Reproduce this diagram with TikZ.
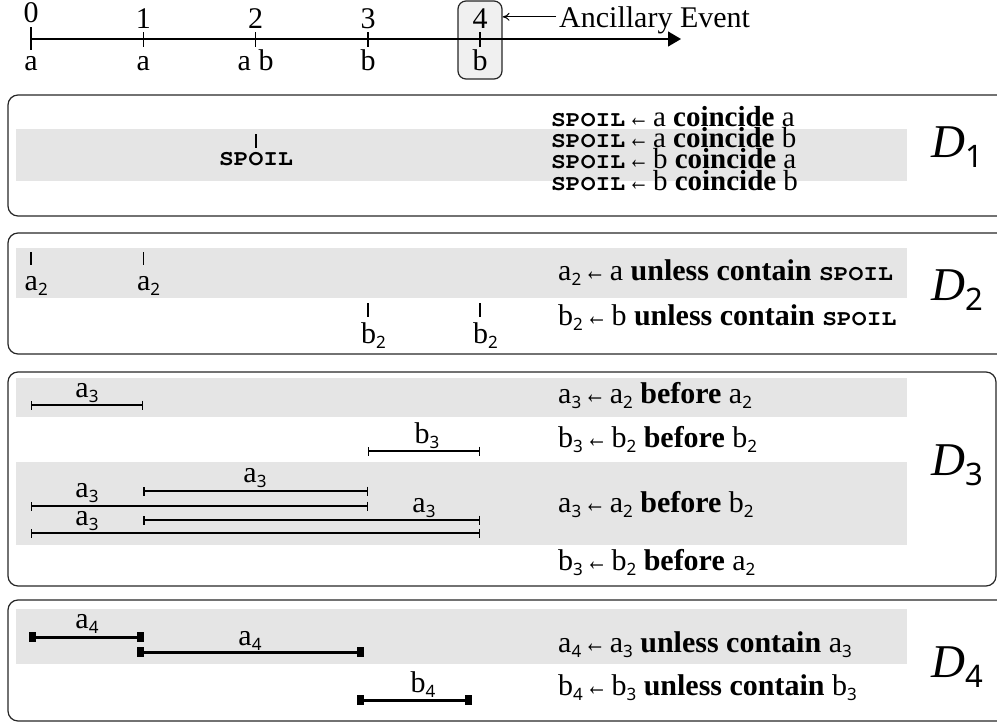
\documentclass[tikz,border=0pt]{standalone}
\usepackage{fontspec}
\setmainfont{Liberation Serif}
\newfontfamily\subf{Noto Sans}
\usetikzlibrary{arrows.meta}
\newcommand\sbs[1]{\raisebox{-5pt}{\subf\fontsize{17}{17}\selectfont #1}}
\newcommand\spoil{{\fontencoding{T1}\fontfamily{pcr}\fontseries{b}\fontshape{n}\fontsize{22}{22}\selectfont\scalebox{1.12}[1]{SPOIL}}}
\newcommand\Dlab[1]{{\fontsize{47}{47}\selectfont\itshape D}\raisebox{-10pt}{\subf\fontsize{31}{31}\selectfont #1}}
\newcommand\la{\hspace{3pt}\scalebox{0.72}[1]{←}\hspace{4pt}}
\begin{document}
\begin{tikzpicture}[x=1pt,y=-1pt,
  txt/.style={inner sep=0pt, font=\fontsize{30}{30}\selectfont},
  lab/.style={txt, anchor=base},
  rulet/.style={txt, anchor=base west},
  rulec/.style={inner sep=0pt, anchor=base west, font=\fontsize{29}{29}\selectfont},
  dlab/.style={inner sep=0pt, anchor=base west},
  dbox/.style={draw=black!85, line width=1.2pt, rounded corners=10pt},
  band/.style={fill=black!10},
  tickl/.style={line width=1.2pt},
  ival/.style={line width=1.3pt, {Bar[width=9pt,line width=1.3pt]}-{Bar[width=9pt,line width=1.3pt]}},
  ivalb/.style={line width=3pt},
  endsq/.style={fill=black, minimum width=7pt, minimum height=10pt, inner sep=0pt}
]
\useasboundingbox (0,0) rectangle (997,723);

% ---------- timeline ----------
\node[draw=black!85, fill=black!6, line width=1.2pt, rounded corners=8pt,
      minimum width=44pt, minimum height=78pt, inner sep=0pt] (box4) at (480,40) {};
\coordinate (t0) at (31,39);
\coordinate (tend) at (681,39);
\draw[line width=1.3pt, -{Triangle[length=13pt,width=15pt]}] (t0) -- (tend);
\draw[tickl] (31,27) -- (31,50);
\foreach \x in {143.3,255.6,368,480} \draw[tickl] (\x,32) -- (\x,47);
\node[lab] (n0) at (31,22) {0};
\node[lab] (n1) at (143.3,28) {1};
\node[lab] (n2) at (255.6,28) {2};
\node[lab] (n3) at (368,28) {3};
\node[lab] (n4) at (480,28) {4};
\node[lab] (l0) at (31,70) {a};
\node[lab] (l1) at (143.3,70) {a};
\node[lab] (l2) at (255.6,70) {a b};
\node[lab] (l3) at (368,70) {b};
\node[lab] (l4) at (480,70) {b};
\node[rulet] (anc) at (559,27) {Ancillary Event};
\draw[line width=1pt, -{To[length=7pt,width=8pt]}] ([xshift=-3pt,yshift=3pt]anc.west) -- ([yshift=3pt]anc.west -| box4.east);

% ---------- D1 ----------
\draw[dbox] (8,95) rectangle (1010,216);
\fill[band] (16,129) rectangle (907,181);
\draw[tickl] (256,134) -- (256,148);
\node[lab] (sp) at (256,165) {\spoil};
\node[rulec] (r11) at (551,126) {\spoil\la a \textbf{coincide} a};
\node[rulec] (r12) at (551,147) {\spoil\la a \textbf{coincide} b};
\node[rulec] (r13) at (551,168) {\spoil\la b \textbf{coincide} a};
\node[rulec] (r14) at (551,190) {\spoil\la b \textbf{coincide} b};
\node[dlab] (d1) at (931,157) {\Dlab{1}};

% ---------- D2 ----------
\draw[dbox] (8,233) rectangle (1010,354);
\fill[band] (16,248) rectangle (907,298);
\draw[tickl] (31,252) -- (31,265);
\draw[tickl] (143.3,252) -- (143.3,265);
\draw[tickl] (368,303) -- (368,317);
\draw[tickl] (480,303) -- (480,317);
\node[rulet] (a2a) at (24.5,290) {a\sbs{2}};
\node[rulet] (a2b) at (136.8,290) {a\sbs{2}};
\node[rulet] (b2a) at (360.8,343) {b\sbs{2}};
\node[rulet] (b2b) at (472.8,343) {b\sbs{2}};
\node[rulet] (r21) at (558,280) {a\sbs{2}\la a \textbf{unless contain} \spoil};
\node[rulet] (r22) at (558,325) {b\sbs{2}\la b \textbf{unless contain} \spoil};
\node[dlab] (d2) at (931,300) {\Dlab{2}};

% ---------- D3 ----------
\draw[dbox] (8,372) rectangle (996,586);
\fill[band] (16,378) rectangle (907,417);
\fill[band] (16,462) rectangle (907,545);
\draw[ival] (31,405) -- (143.3,405);
\draw[ival] (368,451) -- (480,451);
\draw[ival] (143.3,491) -- (368,491);
\draw[ival] (31,506) -- (368,506);
\draw[ival] (143.3,520) -- (480,520);
\draw[ival] (31,533) -- (480,533);
\node[lab] (i31) at (87,397) {a\sbs{3}};
\node[lab] (i32) at (427,443) {b\sbs{3}};
\node[lab] (i33) at (255,482) {a\sbs{3}};
\node[lab] (i34) at (87,497) {a\sbs{3}};
\node[lab] (i35) at (424,512) {a\sbs{3}};
\node[lab] (i36) at (87,525) {a\sbs{3}};
\node[rulet] (r31) at (558,403) {a\sbs{3}\la a\sbs{2} \textbf{before} a\sbs{2}};
\node[rulet] (r32) at (558,447) {b\sbs{3}\la b\sbs{2} \textbf{before} b\sbs{2}};
\node[rulet] (r33) at (558,512) {a\sbs{3}\la a\sbs{2} \textbf{before} b\sbs{2}};
\node[rulet] (r34) at (558,570) {b\sbs{3}\la b\sbs{2} \textbf{before} a\sbs{2}};
\node[dlab] (d3) at (931,475) {\Dlab{3}};

% ---------- D4 ----------
\draw[dbox] (8,600) rectangle (1010,721);
\fill[band] (16,609) rectangle (907,664);
\coordinate (p0) at (32.5,637);
\coordinate (p1) at (140,637);
\coordinate (q1) at (140,652);
\coordinate (q3) at (360,652);
\coordinate (s3) at (360,700);
\coordinate (s4) at (468,700);
\draw[ivalb] (p0) -- (p1);
\draw[ivalb] (q1) -- (q3);
\draw[ivalb] (s3) -- (s4);
\foreach \c in {p0,p1,q1,q3,s3,s4} \node[endsq] at (\c) {};
\node[lab] (i41) at (87,628) {a\sbs{4}};
\node[lab] (i42) at (250,645) {a\sbs{4}};
\node[lab] (i43) at (423,692) {b\sbs{4}};
\node[rulet] (r41) at (558,652) {a\sbs{4}\la a\sbs{3} \textbf{unless contain} a\sbs{3}};
\node[rulet] (r42) at (558,695) {b\sbs{4}\la b\sbs{3} \textbf{unless contain} b\sbs{3}};
\node[dlab] (d4) at (931,677) {\Dlab{4}};
\end{tikzpicture}
\end{document}
